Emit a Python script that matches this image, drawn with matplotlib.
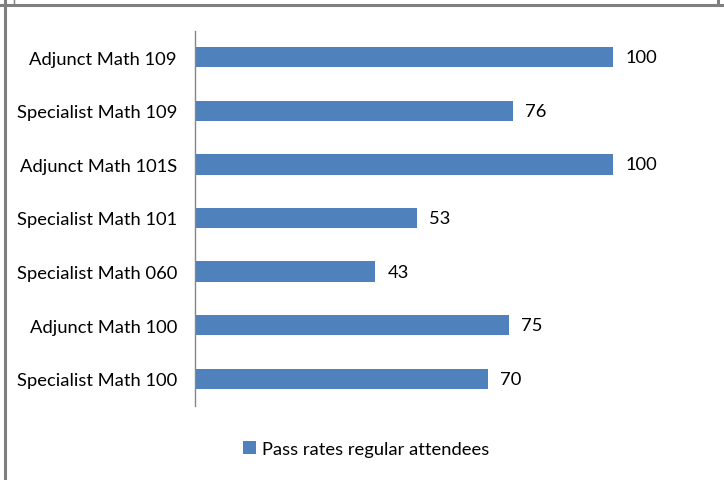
import matplotlib
matplotlib.use("Agg")
import matplotlib.pyplot as plt
from matplotlib.lines import Line2D
from matplotlib.patches import Patch

categories = ["Specialist Math 100", "Adjunct Math 100", "Specialist Math 060",
              "Specialist Math 101", "Adjunct Math 101S", "Specialist Math 109",
              "Adjunct Math 109"]
pass_rates = [70, 75, 43, 53, 100, 76, 100]
series_name = "Pass rates regular attendees"

W, H = 724, 481
fig = plt.figure(figsize=(W / 100, H / 100), dpi=100)
plt.rcParams["font.family"] = ["Lato", "DejaVu Sans"]
fs = 13.2

# plot area in pixel coordinates
left, right, top, bottom = 195, 697, 31.5, 406.5
ax = fig.add_axes([left / W, 1 - bottom / H, (right - left) / W, (bottom - top) / H])

bar_color = "#4F81BD"
y = range(len(categories))
ax.barh(y, pass_rates, height=0.38, color=bar_color)
ax.set_xlim(0, 120)
ax.set_ylim(-0.5, len(categories) - 0.5)
ax.set_yticks(list(y))
ax.set_yticklabels(categories, fontsize=fs)
ax.tick_params(axis="y", length=0, pad=13)
ax.set_xticks([])
for s in ["top", "right", "bottom"]:
    ax.spines[s].set_visible(False)
ax.spines["left"].set_color("#868686")
ax.spines["left"].set_linewidth(1)

for yi, v in zip(y, pass_rates):
    ax.text(v + 3, yi, f"{v}", va="center", ha="left", fontsize=fs)

# legend below the plot
fig.legend(handles=[Patch(facecolor=bar_color, edgecolor="none")],
           labels=[series_name], loc="center", bbox_to_anchor=(366 / W, 1 - 450 / H),
           frameon=False, fontsize=fs, handlelength=0.7, handleheight=0.7,
           handletextpad=0.3)

# frame lines around the chart
frame = dict(color="#7F7F7F", linewidth=2.2, transform=fig.transFigure)
fig.add_artist(Line2D([0, 1], [1 - 6 / H, 1 - 6 / H], **frame))
fig.add_artist(Line2D([5 / W, 5 / W], [0, 1], **frame))
fig.add_artist(Line2D([718 / W, 718 / W], [1 - 6 / H, 1], **frame))
fig.add_artist(Line2D([14 / W, 14 / W], [1 - 6 / H, 1], color="#7F7F7F",
                      linewidth=1, transform=fig.transFigure))

fig.savefig("out.png", dpi=100)
